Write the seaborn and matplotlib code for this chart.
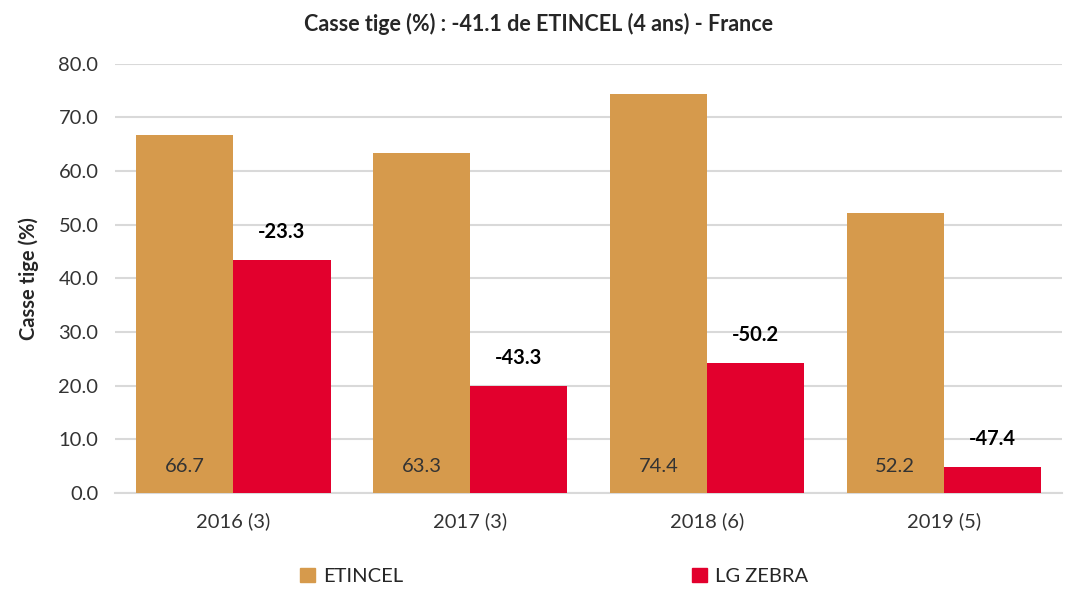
import matplotlib
matplotlib.use("Agg")
import matplotlib.pyplot as plt
import pandas as pd
import seaborn as sns

# ── Data ──────────────────────────────────────────────────────────────────────
years = ["2016 (3)", "2017 (3)", "2018 (6)", "2019 (5)"]
etincel = [66.7, 63.3, 74.4, 52.2]
zebra = [43.4, 20.0, 24.2, 4.8]
diff_labels = [-23.3, -43.3, -50.2, -47.4]
series = ["ETINCEL", "LG ZEBRA"]
colors = {"ETINCEL": "#D69A4C", "LG ZEBRA": "#E2002D"}

df = pd.DataFrame({
    "year": years * 2,
    "variety": [series[0]] * len(years) + [series[1]] * len(years),
    "value": etincel + zebra,
})

sns.set_theme(style="white")
plt.rcParams["font.family"] = ["Lato", "DejaVu Sans"]

fig = plt.figure(figsize=(10.76, 5.96), dpi=100)
ax = fig.add_axes([0.107, 0.173, 0.880, 0.720])

sns.barplot(data=df, x="year", y="value", hue="variety", palette=colors,
            width=0.82, saturation=1, ax=ax, legend=False, zorder=3,
            linewidth=0)

ax.set_ylim(0, 80)
ax.set_yticks(range(0, 81, 10))
ax.set_yticklabels([f"{v:.1f}" for v in range(0, 81, 10)], fontsize=14.5, color="#333333")
ax.tick_params(axis="x", labelsize=14.5, colors="#333333", length=0, pad=14)
ax.tick_params(axis="y", length=0, pad=12)
ax.grid(axis="y", color="#D9D9D9", linewidth=1.5, zorder=0)
for s in ["top", "right", "left"]:
    ax.spines[s].set_visible(False)
ax.spines["bottom"].set_color("#D9D9D9")
ax.spines["bottom"].set_linewidth(1.5)
ax.set_xlabel("")
ax.set_ylabel("Casse tige (%)", fontsize=14.5, fontweight="bold", labelpad=14)

# value labels
et_bars, ze_bars = ax.containers[0], ax.containers[1]
for bar, v in zip(et_bars, etincel):
    ax.text(bar.get_x() + bar.get_width() / 2, 5, f"{v:.1f}",
            ha="center", va="center", fontsize=14.5, color="#333333")
for bar, d in zip(ze_bars, diff_labels):
    ax.text(bar.get_x() + bar.get_width() / 2, bar.get_height() + 3.3, f"{d:.1f}",
            ha="center", va="bottom", fontsize=14.5, fontweight="bold", color="black")

fig.suptitle("Casse tige (%) : -41.1 de ETINCEL (4 ans) - France",
             fontsize=15.5, fontweight="bold", y=0.978)

# legend at bottom
handles = [plt.Rectangle((0, 0), 1, 1, color=colors[s]) for s in series]
fig.legend(handles, series, loc="lower center", ncol=2, frameon=False,
           bbox_to_anchor=(0.515, -0.012), fontsize=14.5, columnspacing=14.3,
           handlelength=0.75, handleheight=0.75, handletextpad=0.4)

fig.savefig("out.png", dpi=100)
